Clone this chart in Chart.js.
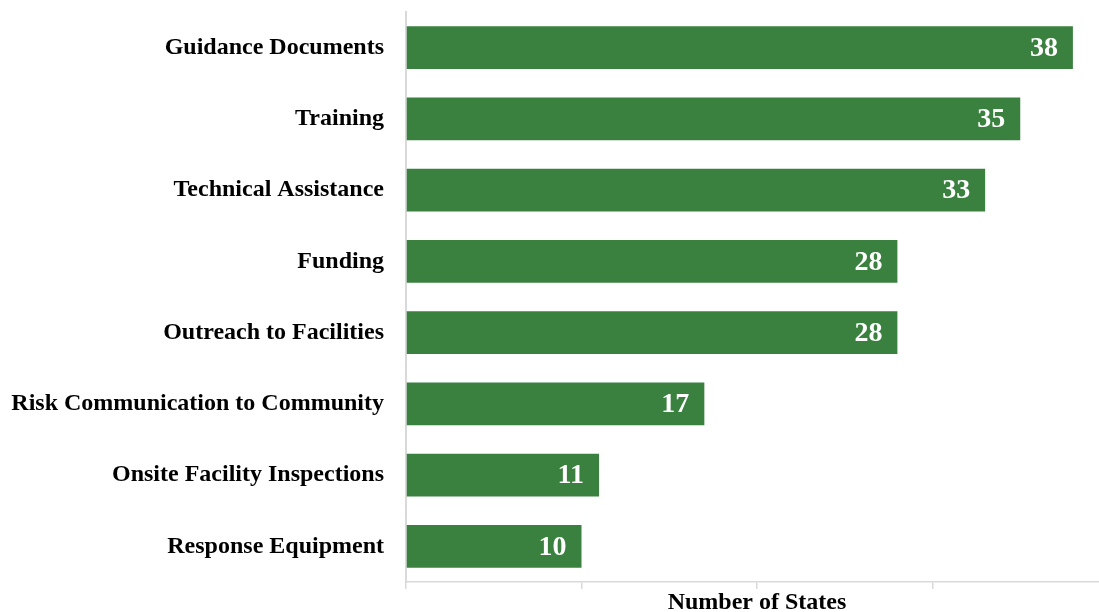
<!DOCTYPE html>
<html><head><meta charset="utf-8">
<script src="https://cdn.jsdelivr.net/npm/chart.js@4/dist/chart.umd.min.js"></script>
<style>html,body{margin:0;padding:0;overflow:hidden;background:#fff}#wrap{width:1110px;height:612px}</style>
</head><body><div id="wrap"><canvas id="c"></canvas></div>
<script>
const categories = ["Guidance Documents","Training","Technical Assistance","Funding","Outreach to Facilities","Risk Communication to Community","Onsite Facility Inspections","Response Equipment"];
const values = [38,35,33,28,28,17,11,10];
const axisTitle = "Number of States";

const serif = '"Liberation Serif", "Times New Roman", serif';

const valueLabels = {
  id:'valueLabels',
  afterDatasetsDraw(chart){
    const ctx = chart.ctx;
    const meta = chart.getDatasetMeta(0);
    ctx.save();
    ctx.fillStyle = '#ffffff';
    ctx.font = 'bold 28px ' + serif;
    ctx.textAlign = 'right';
    ctx.textBaseline = 'middle';
    meta.data.forEach((el,i)=>{
      ctx.fillText(String(values[i]), el.x - 15, el.y + 1);
    });
    ctx.restore();
  }
};

new Chart(document.getElementById('c'), {
  type:'bar',
  data:{labels:categories, datasets:[{data:values, backgroundColor:'#3a813f', barPercentage:0.6, categoryPercentage:1.0}]},
  options:{
    indexAxis:'y', responsive:true, maintainAspectRatio:false, animation:false,
    layout:{padding:{top:11,left:0,right:2,bottom:0}},
    plugins:{legend:{display:false}, tooltip:{enabled:false}},
    scales:{
      x:{min:0,max:40,
        ticks:{display:false, stepSize:10},
        grid:{drawOnChartArea:false, drawTicks:true, tickLength:7, color:'#d9d9d9', lineWidth:1.5},
        border:{color:'#d9d9d9', width:1.5},
        title:{display:true, text:axisTitle, color:'#000', font:{family:serif, size:24, weight:'bold', lineHeight:0.8}, padding:{top:0,bottom:0}},
        afterFit(s){ s.height = 30; }
      },
      y:{
        ticks:{color:'#000', font:{family:serif, size:24, weight:'bold', lineHeight:1}, padding:0},
        grid:{display:true, drawOnChartArea:false, drawTicks:true, tickLength:22, color:'rgba(0,0,0,0)'},
        border:{color:'#d9d9d9', width:2},
        afterFit(s){ s.width = 406; }
      }
    }
  },
  plugins:[valueLabels]
});
</script></body></html>
